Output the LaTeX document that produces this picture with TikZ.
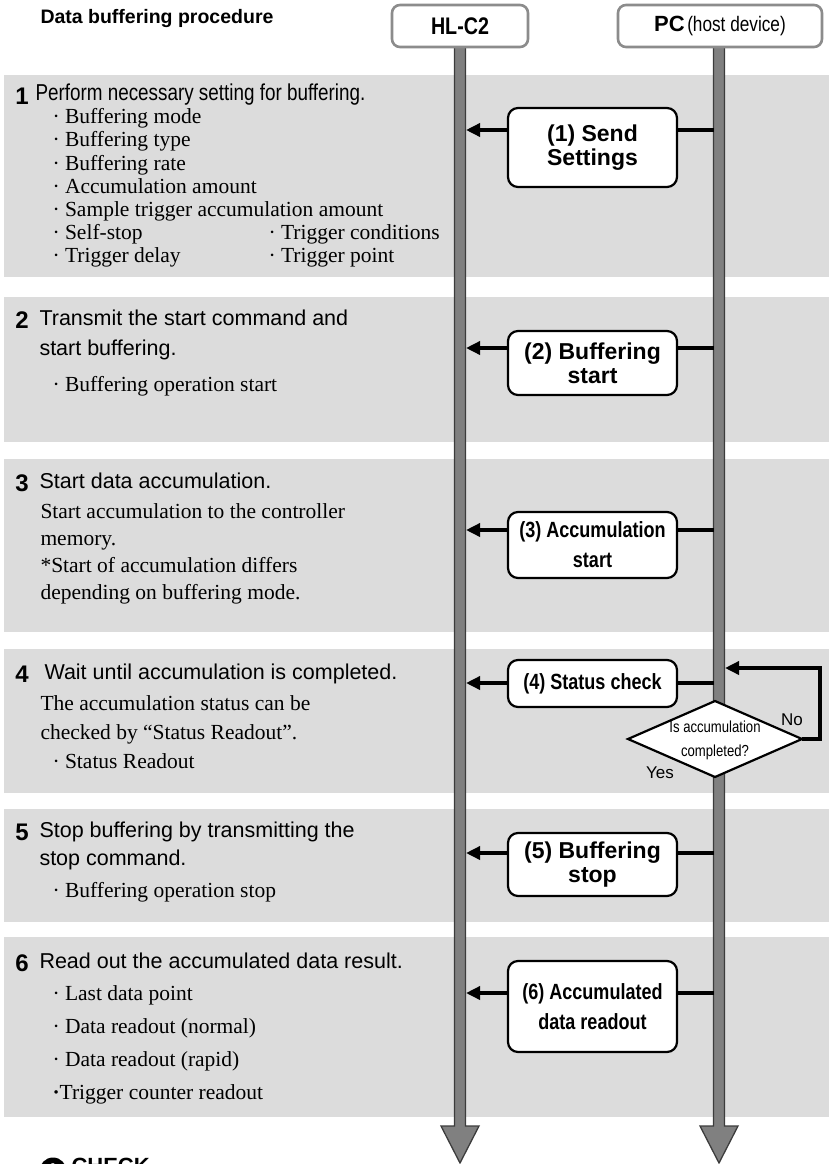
\documentclass[tikz,border=0pt]{standalone}
\usepackage{fontspec}
\setmainfont{Liberation Serif}
\setsansfont{Liberation Sans}
\newfontfamily\narrowsf[FakeStretch=0.82]{Liberation Sans}
\usetikzlibrary{arrows.meta}
\definecolor{cband}{HTML}{DCDCDC}
\definecolor{clane}{HTML}{808080}
\definecolor{clanedark}{HTML}{3C3C3C}
\definecolor{cframe}{HTML}{8C8C8C}
\tikzset{
  every picture/.style={line width=1pt},
  band/.style={fill=cband, draw=none},
  lane/.style={fill=clane, draw=clanedark, line width=1.3pt, line join=miter},
  dev/.style={draw=cframe, fill=white, line width=2.6pt, rounded corners=8pt, minimum width=#1, minimum height=42pt, inner sep=0pt},
  cmd/.style={draw, fill=white, line width=2.2pt, rounded corners=10pt, minimum width=169pt, minimum height=#1, align=center, inner sep=0pt},
  wide/.style={font=\sffamily\bfseries\fontsize{23}{24}\selectfont},
  narrow/.style={font=\narrowsf\bfseries\fontsize{22}{30}\selectfont},
  msg/.style={-{Triangle[length=14pt, width=13pt]}, line width=3.4pt},
  link/.style={line width=3.4pt},
  num/.style={anchor=west, inner sep=0pt, text height=16pt, text depth=0pt, font=\sffamily\bfseries\fontsize{24}{24}\selectfont},
  head/.style={anchor=west, inner sep=0pt, text height=15.5pt, text depth=5pt, font=\sffamily\fontsize{21.5}{24}\selectfont},
  body/.style={anchor=west, inner sep=0pt, text height=14.5pt, text depth=5pt, font=\fontsize{21.5}{24}\selectfont},
  tag/.style={inner sep=0pt, font=\sffamily\fontsize{17}{17}\selectfont},
}

\begin{document}
\begin{tikzpicture}[x=1pt, y=-1pt]
  \useasboundingbox (0,0) rectangle (829,1164);
  % grey step bands
  \foreach \top/\bot in {75/277, 297/442, 459/632, 649/793, 809/922, 937/1117}
    \fill[band] (4,\top) rectangle (829,\bot);
  % the two time lines
  \foreach \lx in {460, 719}
    \draw[lane] (\lx-5.5,47) -- (\lx-5.5,1126) -- (\lx-19,1126) -- (\lx,1163) -- (\lx+19,1126) -- (\lx+5.5,1126) -- (\lx+5.5,47) -- cycle;

  \node[anchor=west, inner sep=0pt, font=\sffamily\bfseries\fontsize{19.5}{20}\selectfont] (title) at (40,19) {Data buffering procedure};
  \node[dev=136pt, font=\narrowsf\bfseries\fontsize{24}{24}\selectfont] (hl) at (460,26) {HL-C2};
  \node[dev=204pt] (pc) at (720,26) {{\sffamily\bfseries\fontsize{22}{22}\selectfont PC}\ {\narrowsf\fontsize{21}{21}\selectfont (host device)}};

  % commands sent by the PC
  \node[cmd=79pt, wide] (send) at (592.5,147.5) {(1) Send\\Settings};
  \node[cmd=64pt, wide] (bstart) at (592.5,363) {(2) Buffering\\start};
  \node[cmd=66pt, narrow] (astart) at (592.5,545) {(3) Accumulation\\start};
  \node[cmd=47pt, narrow] (status) at (592.5,683.5) {(4) Status check};
  \node[cmd=63pt, wide] (bstop) at (592.5,864.5) {(5) Buffering\\stop};
  \node[cmd=91pt, narrow] (readout) at (592.5,1006.5) {(6) Accumulated\\data readout};
  \foreach \b/\ay in {send/130, bstart/348, astart/530, status/683, bstop/853, readout/993} {
    \coordinate (pc-\b) at (713.5,\ay);
    \coordinate (hl-\b) at (466,\ay);
    \draw[link] (pc-\b) -- (\b.east |- pc-\b);
    \draw[msg] (\b.west |- hl-\b) -- (hl-\b);
  }

  % waiting loop
  \draw[fill=white, line width=2.2pt, line join=miter] (628,739) -- (715,701) -- (802,739) -- (715,777) -- cycle;
  \node[align=center, inner sep=0pt, font=\narrowsf\fontsize{16}{24}\selectfont] (ask) at (715,740) {Is accumulation\\completed?};
  \coordinate (askR) at (802,739);
  \coordinate (pcin) at (725,668);
  \draw[msg, line join=miter] (askR) -- (820,739) |- (pcin);
  \node[tag] (no) at (792,720) {No};
  \node[tag] (yes) at (660,773) {Yes};

  % step 1
  \node[num] (n1) at (15,96) {1};
  \node[head, font=\narrowsf\fontsize{23}{24}\selectfont] (h1) at (35,95) {Perform necessary setting for buffering.};
  \foreach \t [count=\i] in {Buffering mode, Buffering type, Buffering rate, Accumulation amount, Sample trigger accumulation amount, Self-stop, Trigger delay}
    \node[body] (s1i\i) at (52,96+23.1*\i) {· \t};
  \node[body] (s1c1) at (268,234.6) {· Trigger conditions};
  \node[body] (s1c2) at (268,257.7) {· Trigger point};

  % step 2
  \node[num] (n2) at (15,320) {2};
  \node[head] (h2) at (39,320) {Transmit the start command and};
  \node[head] (h2b) at (39,350) {start buffering.};
  \node[body] (s2i1) at (52,387) {· Buffering operation start};

  % step 3
  \node[num] (n3) at (15,483) {3};
  \node[head] (h3) at (39,483) {Start data accumulation.};
  \node[body] (s3a) at (40,514) {Start accumulation to the controller};
  \node[body] (s3b) at (40,541) {memory.};
  \node[body] (s3c) at (40,568) {*Start of accumulation differs};
  \node[body] (s3d) at (40,595) {depending on buffering mode.};

  % step 4
  \node[num] (n4) at (15,674) {4};
  \node[head] (h4) at (44,674) {Wait until accumulation is completed.};
  \node[body] (s4a) at (40,706) {The accumulation status can be};
  \node[body] (s4b) at (40,735) {checked by “Status Readout”.};
  \node[body] (s4c) at (52,764) {· Status Readout};

  % step 5
  \node[num] (n5) at (15,832) {5};
  \node[head] (h5) at (39,832) {Stop buffering by transmitting the};
  \node[head] (h5b) at (39,860) {stop command.};
  \node[body] (s5i1) at (52,893) {· Buffering operation stop};

  % step 6
  \node[num] (n6) at (15,963) {6};
  \node[head] (h6) at (39,963) {Read out the accumulated data result.};
  \foreach \t [count=\i] in {Last data point, Data readout (normal), Data readout (rapid)}
    \node[body] (s6i\i) at (52,963+33*\i) {· \t};
  \node[body] (s6i4) at (52,1095) {{\bfseries·}Trigger counter readout};

  % cut-off note at the foot
  \node[circle, fill=black, minimum size=27pt, inner sep=0pt, text=white, font=\sffamily\bfseries\fontsize{20}{20}\selectfont] (chkicon) at (53,1171) {!};
  \node[anchor=west, inner sep=0pt, font=\sffamily\bfseries\fontsize{22}{22}\selectfont] (chk) at (71,1166) {CHECK};
\end{tikzpicture}
\end{document}
